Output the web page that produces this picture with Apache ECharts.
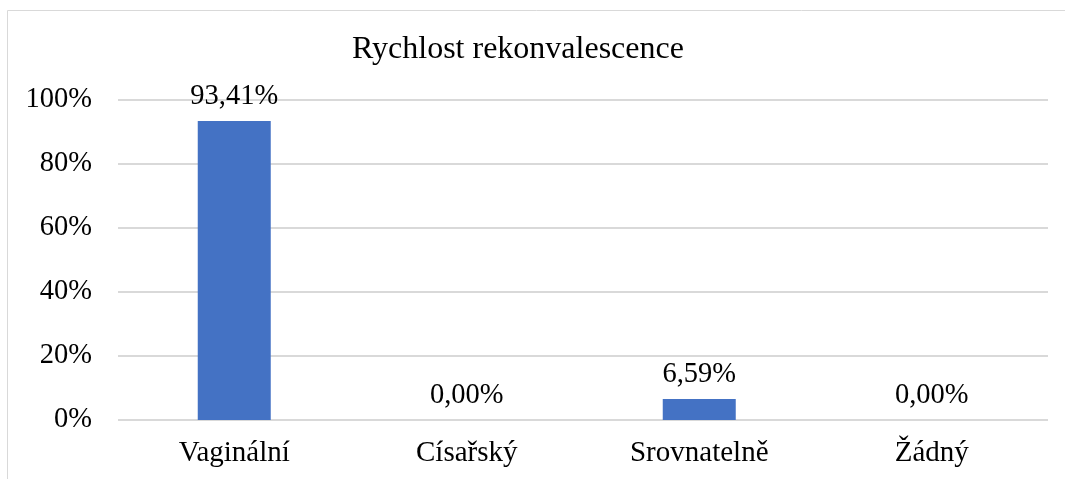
<!DOCTYPE html>
<html>
<head>
<meta charset="utf-8">
<script src="https://cdn.jsdelivr.net/npm/echarts@6/dist/echarts.min.js"></script>
<style>
  html, body { margin: 0; padding: 0; background: #fff; }
  #chart { width: 1065px; height: 479px; }
</style>
</head>
<body>
<div id="chart"></div>
<script>
const categories = ['Vaginální', 'Císařský', 'Srovnatelně', 'Žádný']
const values = [93.41, 0, 6.59, 0]
const yTicks = [0, 20, 40, 60, 80, 100]

const font = '"Liberation Serif", "Times New Roman", serif'

let chart = echarts.init(document.getElementById('chart'))
let option = {
  animation: false,
  title: {
    text: 'Rychlost rekonvalescence',
    left: 347,
    top: 29,
    textStyle: {
      fontFamily: font,
      fontSize: 32,
      fontWeight: 'normal',
      color: '#000'
    }
  },
  graphic: [
    {
      type: 'rect',
      shape: { x: 7.5, y: 10.5, width: 1100, height: 600 },
      style: { fill: 'none', stroke: '#d9d9d9', lineWidth: 1 },
      silent: true
    }
  ],
  grid: {
    left: 118,
    right: 17,
    top: 100,
    bottom: 59,
    containLabel: false
  },
  xAxis: {
    type: 'category',
    data: categories,
    axisLine: { show: false },
    axisTick: { show: false },
    axisLabel: {
      fontFamily: font,
      fontSize: 29,
      color: '#000',
      margin: 19
    }
  },
  yAxis: {
    type: 'value',
    min: yTicks[0],
    max: yTicks[yTicks.length - 1],
    interval: 20,
    axisLine: { show: false },
    axisTick: { show: false },
    splitLine: { lineStyle: { color: '#d9d9d9', width: 2 } },
    axisLabel: {
      fontFamily: font,
      fontSize: 28.5,
      color: '#000',
      margin: 26,
      formatter: v => v + '%'
    }
  },
  series: [
    {
      type: 'bar',
      data: values,
      barWidth: '31.4%',
      itemStyle: { color: '#4472C4' },
      label: {
        show: true,
        position: 'top',
        distance: 10,
        fontFamily: font,
        fontSize: 28.5,
        color: '#000',
        formatter: p => p.value.toFixed(2).replace('.', ',') + '%'
      }
    }
  ]
}
chart.setOption(option)
</script>
</body>
</html>
